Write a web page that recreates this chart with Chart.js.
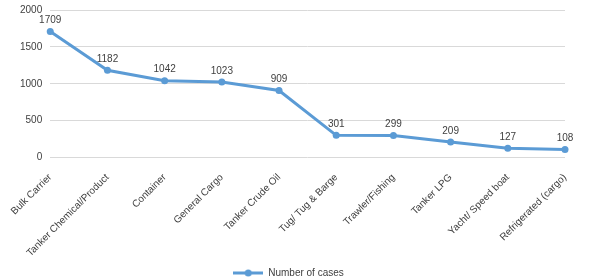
<!DOCTYPE html>
<html>
<head>
<meta charset="utf-8">
<script src="https://cdn.jsdelivr.net/npm/chart.js@4/dist/chart.umd.min.js"></script>
<style>
  html, body { margin: 0; padding: 0; background: #fff; }
  #wrap { width: 600px; height: 280px; }
</style>
</head>
<body>
<div id="wrap"><canvas id="chart" width="600" height="280"></canvas></div>
<script>
// chart data
const categories = ["Bulk Carrier", "Tanker Chemical/Product", "Container", "General Cargo", "Tanker Crude Oil",
    "Tug/ Tug & Barge", "Trawler/Fishing", "Tanker LPG", "Yacht/ Speed boat", "Refrigerated (cargo)"];
const cases = [1709, 1182, 1042, 1023, 909, 301, 299, 209, 127, 108];
const yTicks = [0, 500, 1000, 1500, 2000];
const seriesName = "Number of cases";

const lineColor = '#5B9BD5';
const textColor = '#404040';

// small legend image: line with a dot in the middle
function legendMarker() {
    const c = document.createElement('canvas');
    c.width = 30; c.height = 8;
    const g = c.getContext('2d');
    g.strokeStyle = lineColor;
    g.lineWidth = 3;
    g.beginPath(); g.moveTo(0, 4); g.lineTo(30, 4); g.stroke();
    g.fillStyle = lineColor;
    g.beginPath(); g.arc(15, 4, 3.5, 0, Math.PI * 2); g.fill();
    return c;
}

// draw the value above each point
const valueLabels = {
    id: 'valueLabels',
    afterDatasetsDraw(chart) {
        const ctx = chart.ctx;
        const meta = chart.getDatasetMeta(0);
        ctx.save();
        ctx.font = '10px "Liberation Sans", Arial, sans-serif';
        ctx.fillStyle = textColor;
        ctx.textAlign = 'center';
        ctx.textBaseline = 'bottom';
        meta.data.forEach((pt, i) => {
            ctx.fillText(String(cases[i]), pt.x, pt.y - 6);
        });
        ctx.restore();
    }
};

const marker = legendMarker();

new Chart(document.getElementById('chart'), {
    type: 'line',
    data: {
        labels: categories,
        datasets: [{
            label: seriesName,
            data: cases,
            borderColor: lineColor,
            backgroundColor: lineColor,
            borderWidth: 3,
            pointRadius: 3.5,
            pointBackgroundColor: lineColor,
            pointBorderWidth: 0,
            tension: 0,
            clip: false
        }]
    },
    options: {
        responsive: false,
        animation: false,
        layout: { padding: { top: 10, right: 35, left: 12, bottom: -8 } },
        scales: {
            x: {
                offset: false,
                grid: { display: false },
                border: { display: false },
                ticks: {
                    color: textColor,
                    font: { family: '"Liberation Sans", Arial, sans-serif', size: 10 },
                    minRotation: 45,
                    maxRotation: 45,
                    autoSkip: false,
                    padding: 6
                }
            },
            y: {
                min: 0,
                max: 2000,
                afterBuildTicks(axis) {
                    axis.ticks = yTicks.map(v => ({ value: v }));
                },
                afterFit(axis) {
                    axis.paddingTop = 0;
                },
                grid: { color: '#d9d9d9', drawTicks: false },
                border: { display: false },
                ticks: {
                    color: textColor,
                    font: { family: '"Liberation Sans", Arial, sans-serif', size: 10 },
                    padding: 8,
                    callback: v => String(v)
                }
            }
        },
        plugins: {
            legend: {
                position: 'bottom',
                labels: {
                    usePointStyle: true,
                    pointStyleWidth: 30,
                    color: textColor,
                    font: { family: '"Liberation Sans", Arial, sans-serif', size: 10 },
                    padding: 3,
                    generateLabels(chart) {
                        return [{
                            text: seriesName,
                            pointStyle: marker,
                            fillStyle: lineColor,
                            strokeStyle: lineColor,
                            lineWidth: 0,
                            fontColor: textColor,
                            datasetIndex: 0,
                            hidden: false
                        }];
                    }
                }
            },
            tooltip: { enabled: false }
        }
    },
    plugins: [valueLabels]
});
</script>
</body>
</html>
